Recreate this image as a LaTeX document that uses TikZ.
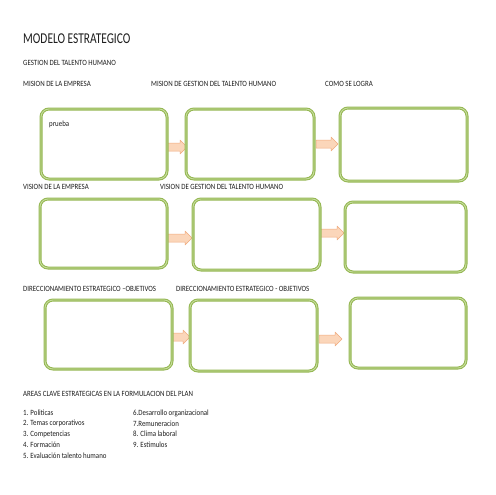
\documentclass[tikz,border=0pt]{standalone}
\usepackage{fontspec}
\setmainfont{Carlito}[FakeStretch=0.86]
\newfontfamily\ttlfont{Carlito}[FakeStretch=0.76]
\definecolor{boxgreen}{RGB}{150,184,84}
\definecolor{boxlight}{RGB}{200,222,160}
\definecolor{arrfill}{RGB}{251,214,186}
\definecolor{arrline}{RGB}{240,170,125}
\definecolor{txt}{RGB}{30,30,30}
\tikzset{
  panel/.style={draw=boxgreen, double=boxlight, double distance=0.8pt, line width=1.1pt,
    rounded corners=8pt, fill=white, inner sep=0pt},
  lbl/.style={anchor=west, inner sep=0pt, text=txt, font=\fontsize{8}{9.5}\selectfont},
  itm/.style={anchor=west, inner sep=0pt, text=txt, font=\fontsize{8}{9.5}\selectfont},
  ttl/.style={anchor=west, inner sep=0pt, text=txt, font=\ttlfont\fontsize{15}{18}\selectfont},
  arrowshape/.style={fill=arrfill, draw=arrline, line width=0.5pt, line join=round},
}
\newcommand{\blockarrow}[3]{% x start, x end, y centre
  \path[arrowshape] (#1,#3-4) -- (#2-7,#3-4) -- (#2-7,#3-7) -- (#2,#3) -- (#2-7,#3+7)
    -- (#2-7,#3+4) -- (#1,#3+4) -- cycle;}
\begin{document}
\begin{tikzpicture}[x=1pt,y=-1pt]
\useasboundingbox[fill=white] (0,0) rectangle (495,495);
% arrows (behind panels)
\blockarrow{165}{187}{147}
\blockarrow{316}{338}{144}
\blockarrow{167}{192}{238}
\blockarrow{318}{344}{233}
\blockarrow{172}{190}{337}
\blockarrow{319}{342}{339}
% panels
\node[panel, minimum width=126pt, minimum height=70pt] (b11) at (104,144) {};
\node[panel, minimum width=128pt, minimum height=70pt] (b12) at (250,144) {};
\node[panel, minimum width=127pt, minimum height=73pt] (b13) at (403.5,144.5) {};
\node[panel, minimum width=127pt, minimum height=69pt] (b21) at (103.5,233.5) {};
\node[panel, minimum width=127pt, minimum height=71pt] (b22) at (256.5,234.5) {};
\node[panel, minimum width=121pt, minimum height=70pt] (b23) at (405.5,237) {};
\node[panel, minimum width=127pt, minimum height=69pt] (b31) at (108.5,334.5) {};
\node[panel, minimum width=127pt, minimum height=71pt] (b32) at (253.5,335.5) {};
\node[panel, minimum width=116pt, minimum height=70pt] (b33) at (408,333) {};
% texts
\node[ttl] (title) at (23,39) {MODELO ESTRATEGICO};
\node[lbl] (gth) at (23,63) {GESTION DEL TALENTO HUMANO};
\node[lbl] (l11) at (23,84) {MISION DE LA EMPRESA};
\node[lbl] (l12) at (151,84) {MISION DE GESTION DEL TALENTO HUMANO};
\node[lbl] (l13) at (325,84) {COMO SE LOGRA};
\node[lbl] (prueba) at (49,124) {prueba};
\node[lbl] (l21) at (23,187) {VISION DE LA EMPRESA};
\node[lbl] (l22) at (160,187) {VISION DE GESTION DEL TALENTO HUMANO};
\node[lbl] (l31) at (23,289) {DIRECCIONAMIENTO ESTRATEGICO –OBJETIVOS};
\node[lbl] (l32) at (176,289) {DIRECCIONAMIENTO ESTRATEGICO - OBJETIVOS};
\node[lbl] (areas) at (23,394) {AREAS CLAVE ESTRATEGICAS EN LA FORMULACION DEL PLAN};
\node[itm] (i1) at (23,413) {1. Politicas};
\node[itm] (i2) at (23,423.5) {2. Temas corporativos};
\node[itm] (i3) at (23,434) {3. Competencias};
\node[itm] (i4) at (23,444.5) {4. Formación};
\node[itm] (i5) at (23,456) {5. Evaluación talento humano};
\node[itm] (i6) at (133,413) {6.Desarrollo organizacional};
\node[itm] (i7) at (133,423.5) {7.Remuneracion};
\node[itm] (i8) at (133,434) {8. Clima laboral};
\node[itm] (i9) at (133,444.5) {9. Estimulos};
\end{tikzpicture}
\end{document}
